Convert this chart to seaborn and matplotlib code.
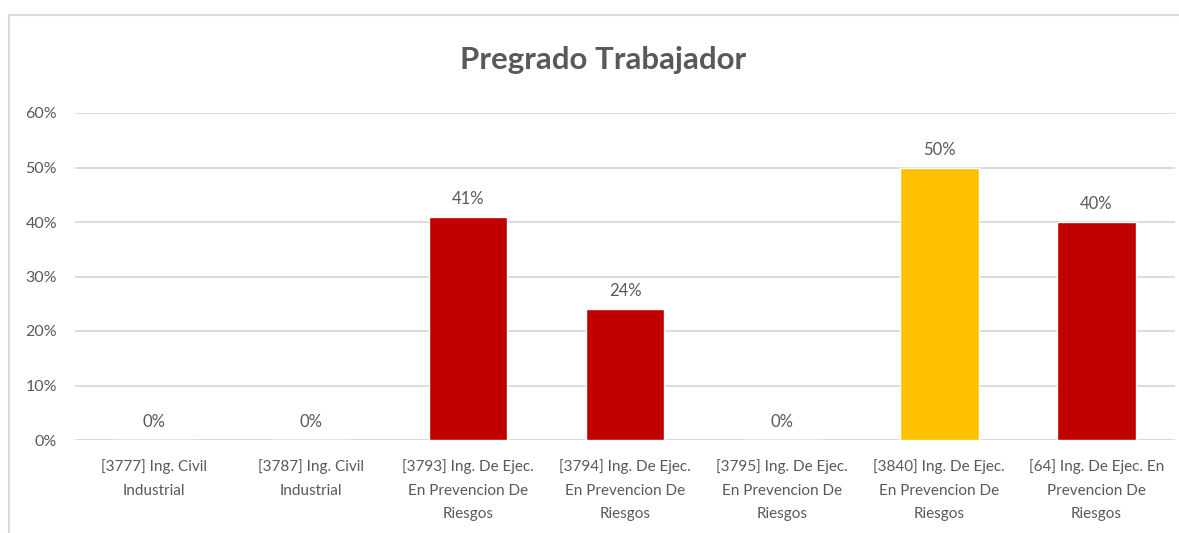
import numpy as np
import pandas as pd
import matplotlib.pyplot as plt
import seaborn as sns
from matplotlib.patches import Rectangle
from matplotlib.ticker import PercentFormatter

# values
categories = [
    "[3777] Ing. Civil\nIndustrial",
    "[3787] Ing. Civil\nIndustrial",
    "[3793] Ing. De Ejec.\nEn Prevencion De\nRiesgos",
    "[3794] Ing. De Ejec.\nEn Prevencion De\nRiesgos",
    "[3795] Ing. De Ejec.\nEn Prevencion De\nRiesgos",
    "[3840] Ing. De Ejec.\nEn Prevencion De\nRiesgos",
    "[64] Ing. De Ejec. En\nPrevencion De\nRiesgos",
]
values = [0.0, 0.0, 0.41, 0.24, 0.0, 0.50, 0.40]
bar_colors = ["#C00000", "#C00000", "#C00000", "#C00000", "#C00000", "#FFC000", "#C00000"]
title = "Pregrado Trabajador"

text_color = "#595959"
grid_color = "#D9D9D9"

sns.set_style("white")
plt.rcParams['font.family'] = ['Lato', 'DejaVu Sans']

df = pd.DataFrame({"programa": categories, "valor": values})

fig = plt.figure(figsize=(11.79, 5.33), dpi=100)
ax = fig.add_axes([75 / 1179, 93 / 533, 1100 / 1179, 327 / 533])

sns.barplot(data=df, x="programa", y="valor", hue="programa", palette=bar_colors,
            legend=False, width=0.5, saturation=1, ax=ax)

ax.set_ylim(0, 0.6)
ax.set_yticks(np.arange(0, 0.61, 0.1))
ax.yaxis.set_major_formatter(PercentFormatter(1.0, decimals=0))
ax.set_xlabel("")
ax.set_ylabel("")
ax.grid(axis="y", color=grid_color, linewidth=1.3)
ax.set_axisbelow(True)
for s in ax.spines.values():
    s.set_visible(False)
ax.tick_params(axis="y", length=0, colors=text_color, labelsize=11.5, pad=13)
ax.tick_params(axis="x", length=0, colors=text_color, labelsize=11, pad=14)
for lbl in ax.get_xticklabels():
    lbl.set_linespacing(1.85)

for cont in ax.containers:
    ax.bar_label(cont, labels=[f"{v:.0%}" for v in cont.datavalues],
                 padding=7, color=text_color, fontsize=12)

fig.text(603 / 1179, 1 - 60 / 533, title, ha="center", va="center",
         fontsize=22.5, fontweight="bold", color=text_color)

# chart frame
fig.patches.append(Rectangle((9 / 1179, -0.2), 2, 1.2 - 15 / 533, transform=fig.transFigure,
                             fill=False, edgecolor=grid_color, linewidth=1.5))

fig.savefig("out.png", dpi=100)
